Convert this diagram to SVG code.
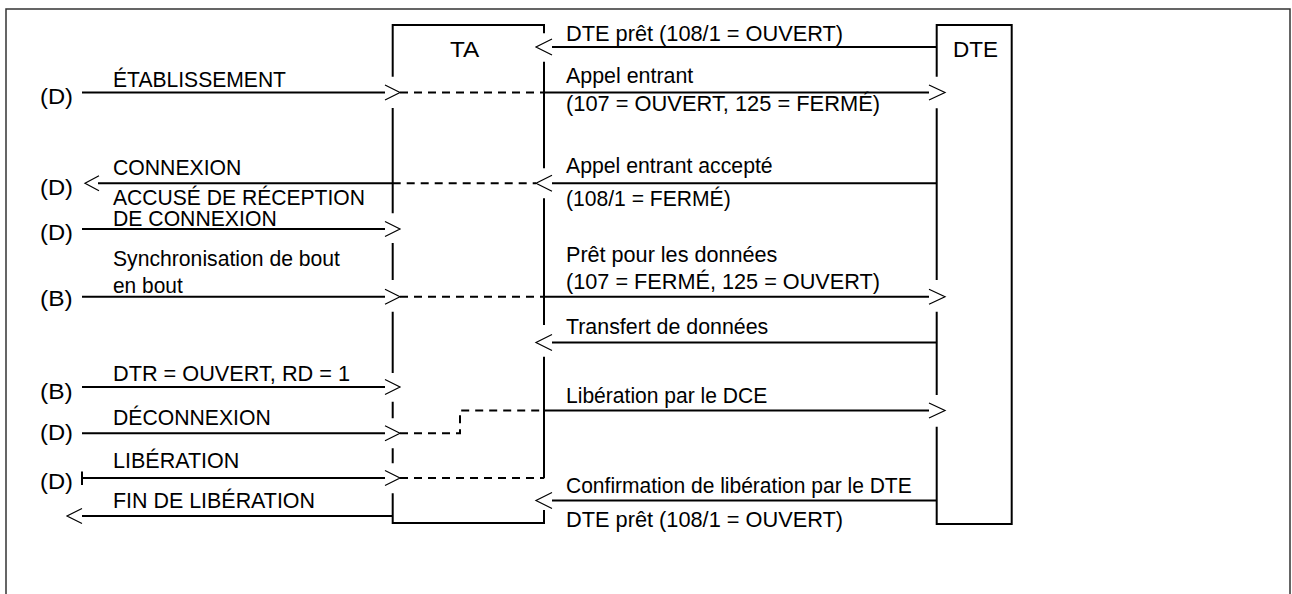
<svg xmlns="http://www.w3.org/2000/svg" width="1292" height="594" viewBox="0 0 1292 594">
<style>
  .t { font-family: "Liberation Sans", Arial, sans-serif; font-size: 21.5px; fill: #000; }
  .p { font-family: "Liberation Sans", Arial, sans-serif; font-size: 22.5px; fill: #000; }
  .s { stroke: #000; stroke-width: 2; fill: none; }
  .d { stroke: #000; stroke-width: 2; fill: none; stroke-dasharray: 8 6; }
  .h { stroke: #000; stroke-width: 1.2; fill: none; }
  .f { stroke: #333; stroke-width: 1.5; fill: none; }
</style>
<rect x="0" y="0" width="1292" height="594" fill="#fff"/>
<g id="frame">
  <path class="f" d="M6,594 V9 H1290 V594"/>
</g>
<g id="TA">
  <path class="s" d="M392.7,76.7 V25 H544 V33.3 M544,61.7 V168.3 M544,198.3 V325 M544,356.7 V478.3 M544,510 V523 H392.7 V493.3 M392.7,463.3 V448.3 M392.7,418.3 V401.7 M392.7,373 V311.7 M392.7,280 V243 M392.7,213.3 V108"/>
  <text class="p" x="450" y="57" textLength="29.3" lengthAdjust="spacingAndGlyphs">TA</text>
</g>
<g id="DTE">
  <path class="s" d="M936.7,76.7 V25 H1011.7 V524 H936.7 V426.7 M936.7,395 V311.7 M936.7,280 V108.3"/>
  <text class="p" x="953" y="57" textLength="45" lengthAdjust="spacingAndGlyphs">DTE</text>
</g>
<g id="connectors">
  <path class="s" d="M552,47 H937 M82,92.5 H385 M544,92.5 H929 M552,183.3 H937 M98,183.3 H392.7 M82,229 H385 M82,296.7 H385 M544,296.7 H929 M552,342.5 H937 M82,387 H385 M82,433.3 H385 M544,410.5 H929 M82,478 H385 M552,500.5 H937 M82,516 H392.7 M82,471.5 V485"/>
  <path class="d" d="M400,92.5 H544 M392.7,183.3 H536 M400,296.7 H544 M400,433.3 H460 V410.5 H544 M400,478 H544"/>
  <path class="h" d="M552,39 L536,47 L552,55 M385,85 L400,92.5 L385,100 M929,85 L945,92.5 L929,100 M552,175.3 L536,183.3 L552,191.3 M99,175.8 L85,183.3 L99,190.8 M385,221.5 L400,229 L385,236.5 M385,289.2 L400,296.7 L385,304.2 M929,289.2 L945,296.7 L929,304.2 M552,334.5 L536,342.5 L552,350.5 M385,379.5 L400,387 L385,394.5 M385,425.8 L400,433.3 L385,440.8 M929,403 L945,410.5 L929,418 M385,470.5 L400,478 L385,485.5 M552,492.5 L536,500.5 L552,508.5 M82,508.5 L67,516 L82,523.5"/>
</g>
<g id="labels-left">
  <text class="p" x="40" y="104" textLength="33" lengthAdjust="spacingAndGlyphs">(D)</text>
  <text class="t" x="113" y="87.3" textLength="173" lengthAdjust="spacingAndGlyphs">ÉTABLISSEMENT</text>
  <text class="p" x="40" y="195" textLength="33" lengthAdjust="spacingAndGlyphs">(D)</text>
  <text class="t" x="113" y="175" textLength="128.4" lengthAdjust="spacingAndGlyphs">CONNEXION</text>
  <text class="t" x="113" y="205" textLength="252" lengthAdjust="spacingAndGlyphs">ACCUSÉ DE RÉCEPTION</text>
  <text class="t" x="113" y="226" textLength="163.7" lengthAdjust="spacingAndGlyphs">DE CONNEXION</text>
  <text class="p" x="40" y="239.5" textLength="33" lengthAdjust="spacingAndGlyphs">(D)</text>
  <text class="t" x="113" y="266" textLength="227" lengthAdjust="spacingAndGlyphs">Synchronisation de bout</text>
  <text class="t" x="113" y="293" textLength="69.7" lengthAdjust="spacingAndGlyphs">en bout</text>
  <text class="p" x="40" y="305.5" textLength="32.7" lengthAdjust="spacingAndGlyphs">(B)</text>
  <text class="t" x="113" y="380.7" textLength="237" lengthAdjust="spacingAndGlyphs">DTR = OUVERT, RD = 1</text>
  <text class="p" x="40" y="399" textLength="32.7" lengthAdjust="spacingAndGlyphs">(B)</text>
  <text class="t" x="113" y="425" textLength="157.7" lengthAdjust="spacingAndGlyphs">DÉCONNEXION</text>
  <text class="p" x="40" y="440" textLength="33" lengthAdjust="spacingAndGlyphs">(D)</text>
  <text class="t" x="113" y="468.3" textLength="126.3" lengthAdjust="spacingAndGlyphs">LIBÉRATION</text>
  <text class="p" x="40" y="489" textLength="33" lengthAdjust="spacingAndGlyphs">(D)</text>
  <text class="t" x="113" y="508.3" textLength="202" lengthAdjust="spacingAndGlyphs">FIN DE LIBÉRATION</text>
</g>
<g id="labels-right">
  <text class="t" x="566" y="40.7" textLength="277" lengthAdjust="spacingAndGlyphs">DTE prêt (108/1 = OUVERT)</text>
  <text class="t" x="566" y="83.3" textLength="127.3" lengthAdjust="spacingAndGlyphs">Appel entrant</text>
  <text class="t" x="566" y="111" textLength="314" lengthAdjust="spacingAndGlyphs">(107 = OUVERT, 125 = FERMÉ)</text>
  <text class="t" x="566" y="173.3" textLength="206.7" lengthAdjust="spacingAndGlyphs">Appel entrant accepté</text>
  <text class="t" x="566" y="206" textLength="164.7" lengthAdjust="spacingAndGlyphs">(108/1 = FERMÉ)</text>
  <text class="t" x="566" y="261.7" textLength="211.3" lengthAdjust="spacingAndGlyphs">Prêt pour les données</text>
  <text class="t" x="566" y="289.3" textLength="314" lengthAdjust="spacingAndGlyphs">(107 = FERMÉ, 125 = OUVERT)</text>
  <text class="t" x="566" y="334" textLength="202.3" lengthAdjust="spacingAndGlyphs">Transfert de données</text>
  <text class="t" x="566" y="403.3" textLength="201.3" lengthAdjust="spacingAndGlyphs">Libération par le DCE</text>
  <text class="t" x="566" y="493.3" textLength="345.7" lengthAdjust="spacingAndGlyphs">Confirmation de libération par le DTE</text>
  <text class="t" x="566" y="526.5" textLength="277" lengthAdjust="spacingAndGlyphs">DTE prêt (108/1 = OUVERT)</text>
</g>
</svg>
